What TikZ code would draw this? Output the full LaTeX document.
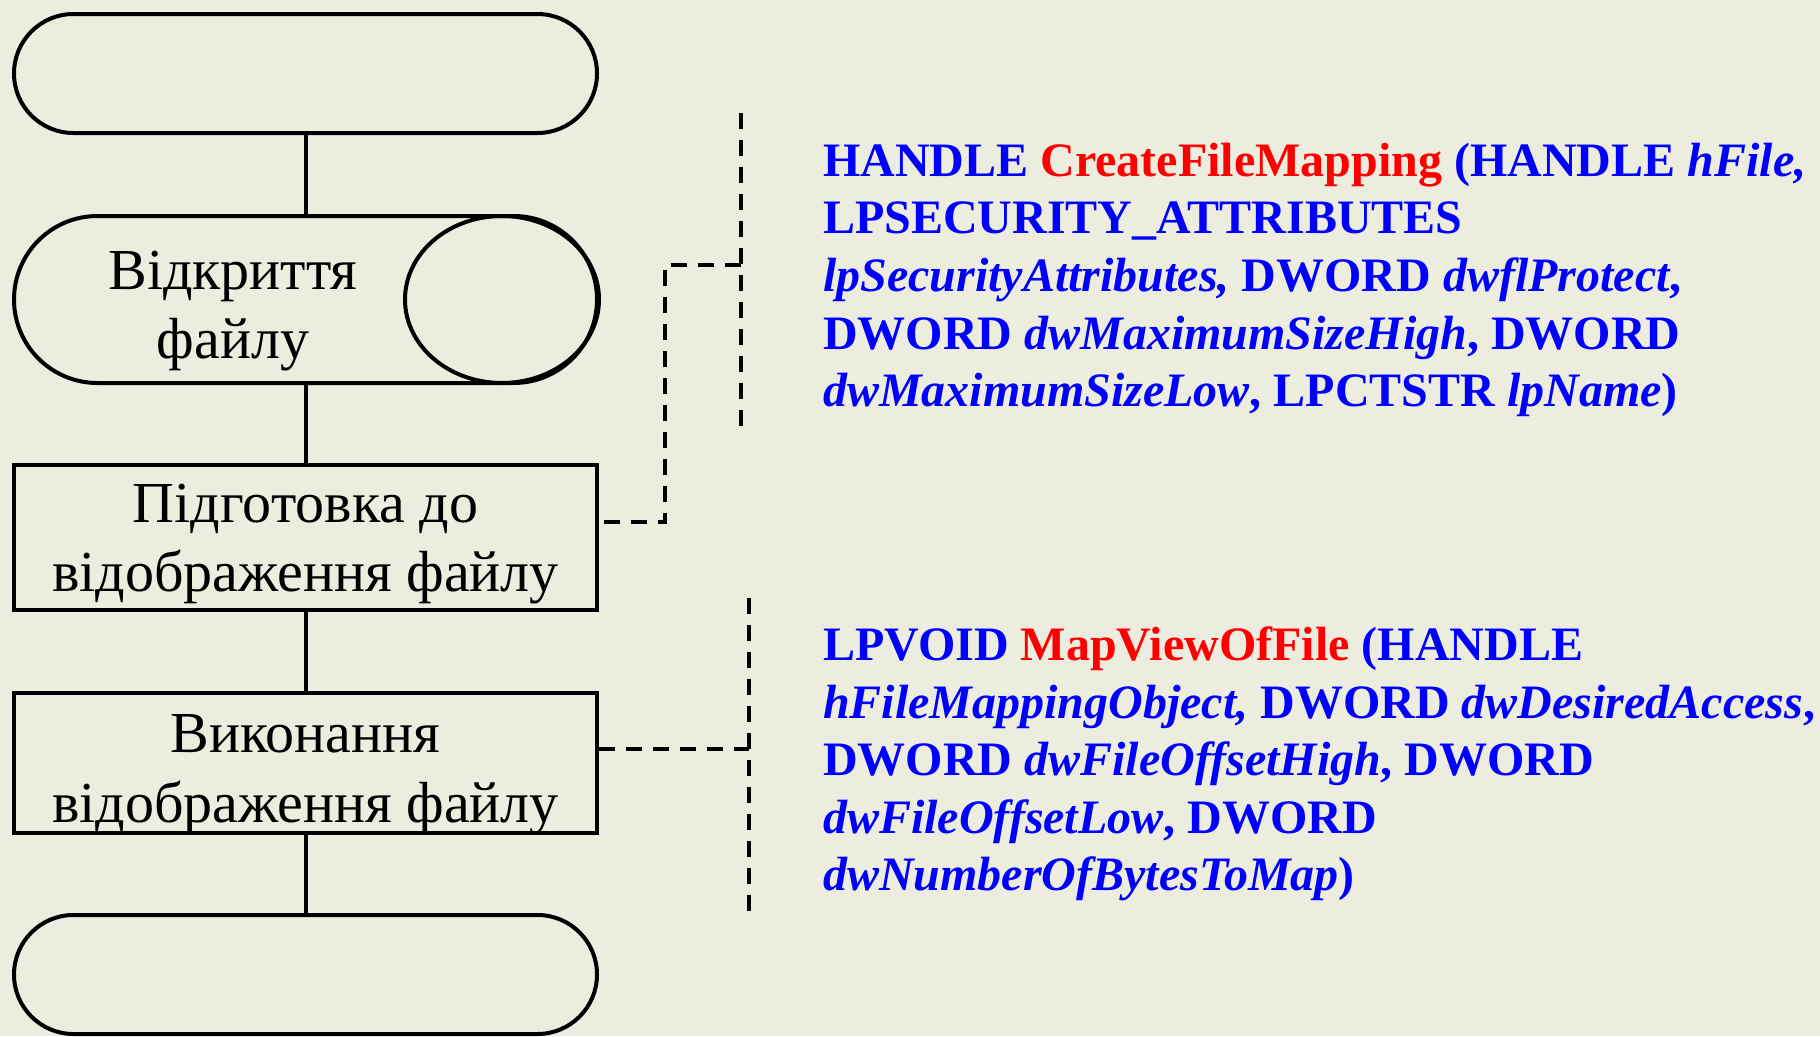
\documentclass[tikz,border=0pt]{standalone}
\usepackage{fontspec}
\setmainfont{Liberation Serif}
\usetikzlibrary{shapes.misc}
\definecolor{bg}{RGB}{236,236,223}
\definecolor{fnblue}{RGB}{0,0,255}
\definecolor{fnred}{RGB}{255,0,0}
\begin{document}
\begin{tikzpicture}[x=1pt,y=-1pt,
  flow/.style={draw=black, line width=4pt},
  term/.style={flow, rounded rectangle, minimum width=583pt, minimum height=119pt, inner sep=0pt},
  procbox/.style={flow, rectangle, minimum width=583pt, inner sep=0pt},
  link/.style={line width=4pt},
  ann/.style={line width=3.4pt, dash pattern=on 16pt off 11pt},
  code/.style={anchor=west, align=left, inner sep=0pt, text=fnblue, font=\bfseries\fontsize{48}{57.6}\selectfont},
  lbl/.style={align=center, inner sep=0pt, font=\fontsize{58}{69.6}\selectfont}
]
\fill[bg] (0,0) rectangle (1820,1036);
\useasboundingbox (0,0) rectangle (1820,1036);

% flowchart
\node[term] (start) at (305.5,73.5) {};
\node[flow, rounded rectangle, minimum width=583pt, minimum height=167pt, inner sep=0pt] (open) at (305.5,299.5) {};
\draw[link] ([xshift=-97pt]open.east) ellipse [x radius=97pt, y radius=83.5pt];
\node[lbl] (opent) at (233,311) {Відкриття\\файлу};
\node[procbox, minimum height=145pt] (b1) at (305.5,537) {};
\node[lbl] (b1t) at (305.5,544) {Підготовка до\\відображення файлу};
\node[procbox, minimum height=140pt] (b2) at (305.5,763) {};
\node[lbl] (b2t) at (305.5,775) {Виконання\\відображення файлу};
\node[term] (stop) at (305.5,974.5) {};

\draw[link] (start) -- (open);
\draw[link] (open) -- (b1);
\draw[link] (b1) -- (b2);
\draw[link] (b2) -- (stop);

% annotations
\coordinate (br1top) at (741,113);
\coordinate (br1bot) at (741,435);
\coordinate (br1j) at (741,265);
\coordinate (k1) at (665,265);
\coordinate (k2) at (665,522);
\draw[ann] (br1top) -- (br1bot);
\draw[ann, dash phase=-5pt] (b1.east |- k2) -- (k2) -- (k1) -- (br1j);

\coordinate (br2top) at (749,598);
\coordinate (br2bot) at (749,917);
\coordinate (br2j) at (749,749);
\draw[ann] (br2top) -- (br2bot);
\draw[ann] (b2.east |- br2j) -- (br2j);

\node[code] (cfm) at (823,280) {HANDLE \textcolor{fnred}{CreateFileMapping} (HANDLE \textit{hFile,}\\
LPSECURITY\_ATTRIBUTES\\
\textit{lpSecurityAttributes,} DWORD \textit{dwflProtect},\\
DWORD \textit{dwMaximumSizeHigh}, DWORD\\
\textit{dwMaximumSizeLow}, LPCTSTR \textit{lpName})};

\node[code] (mvf) at (823,764) {LPVOID \textcolor{fnred}{MapViewOfFile} (HANDLE\\
\textit{hFileMappingObject,} DWORD \textit{dwDesiredAccess},\\
DWORD \textit{dwFileOffsetHigh}, DWORD\\
\textit{dwFileOffsetLow}, DWORD\\
\textit{dwNumberOfBytesToMap})};
\end{tikzpicture}
\end{document}
